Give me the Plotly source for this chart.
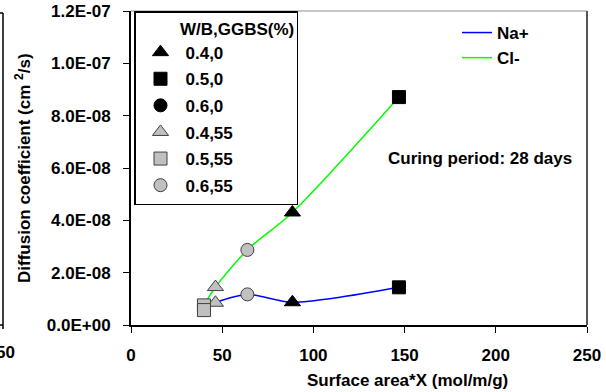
import plotly.graph_objects as go

FONT = "Liberation Sans, Arial, sans-serif"

# ---- data ----
groups = ["0.4,0", "0.5,0", "0.6,0", "0.4,55", "0.5,55", "0.6,55"]
group_x = {"0.4,0": 88.5, "0.5,0": 146.9, "0.6,0": None,
           "0.4,55": 46.3, "0.5,55": 40.0, "0.6,55": 63.8}
na_vals = {"0.4,0": 8.7e-9, "0.5,0": 1.44e-8, "0.6,0": None,
           "0.4,55": 8.5e-9, "0.5,55": 5.7e-9, "0.6,55": 1.17e-8}
cl_vals = {"0.4,0": 4.30e-8, "0.5,0": 8.71e-8, "0.6,0": None,
           "0.4,55": 1.45e-8, "0.5,55": 7.5e-9, "0.6,55": 2.87e-8}

line_order = ["0.5,55", "0.4,55", "0.6,55", "0.4,0", "0.5,0"]

y_tick_vals = [0, 2e-8, 4e-8, 6e-8, 8e-8, 1e-7, 1.2e-7]
y_tick_text = ["0.0E+00", "2.0E-08", "4.0E-08", "6.0E-08", "8.0E-08", "1.0E-07", "1.2E-07"]
x_tick_vals = [0, 50, 100, 150, 200, 250]

# ---- styles ----
sym = {"0.4,0": "triangle-up", "0.5,0": "square", "0.6,0": "circle",
       "0.4,55": "triangle-up", "0.5,55": "square", "0.6,55": "circle"}
fill = {"0.4,0": "black", "0.5,0": "black", "0.6,0": "black",
        "0.4,55": "#c0c0c0", "0.5,55": "#c0c0c0", "0.6,55": "#c0c0c0"}
edge = {"0.4,0": "black", "0.5,0": "black", "0.6,0": "black",
        "0.4,55": "#404040", "0.5,55": "#404040", "0.6,55": "#404040"}
msize = {"triangle-up": 14, "square": 13, "circle": 13}

fig = go.Figure()

# lines
fig.add_trace(go.Scatter(
    x=[group_x[g] for g in line_order], y=[na_vals[g] for g in line_order],
    mode="lines", line=dict(color="#0000ff", width=1.5, shape="spline", smoothing=0.8),
    name="Na+", legend="legend2"))
fig.add_trace(go.Scatter(
    x=[group_x[g] for g in line_order], y=[cl_vals[g] for g in line_order],
    mode="lines", line=dict(color="#00ff00", width=1.5, shape="spline", smoothing=0.8),
    name="Cl-", legend="legend2"))

# markers
for g in groups:
    xs = [group_x[g], group_x[g]]
    ys = [cl_vals[g], na_vals[g]]
    fig.add_trace(go.Scatter(
        x=xs, y=ys, mode="markers", name=g, legendgroup=g, legend="legend",
        marker=dict(symbol=sym[g], size=msize[sym[g]], color=fill[g],
                    line=dict(color=edge[g], width=1))))

W, H = 606, 392
L, R, T, B = 131, 19, 11, 67
pw, ph = W - L - R, H - T - B

def px_x(p):
    return (p - L) / pw

def px_y(p):
    return (H - B - p) / ph

shapes = [
    # top and right frame
    dict(type="line", xref="paper", yref="paper", x0=0, x1=1, y0=1, y1=1,
         line=dict(color="#909090", width=1)),
    dict(type="line", xref="paper", yref="paper", x0=1, x1=1, y0=0, y1=1,
         line=dict(color="#555555", width=2)),
    # left partial panel remnants
    dict(type="line", xref="paper", yref="paper", x0=px_x(3), x1=px_x(3),
         y0=px_y(13), y1=px_y(329), line=dict(color="black", width=1.5)),
    dict(type="line", xref="paper", yref="paper", x0=px_x(0), x1=px_x(3),
         y0=px_y(13), y1=px_y(13), line=dict(color="black", width=1.5)),
    dict(type="line", xref="paper", yref="paper", x0=px_x(0), x1=px_x(3),
         y0=px_y(325), y1=px_y(325), line=dict(color="black", width=1.5)),
]

bold = dict(family=FONT, size=17, color="black", weight="bold")

annotations = [
    dict(text="Curing period: 28 days", xref="paper", yref="paper",
         x=px_x(480), y=px_y(158), xanchor="center", yanchor="middle",
         showarrow=False, font=bold),
    dict(text="Surface area*X (mol/m/g)", xref="paper", yref="paper",
         x=px_x(407), y=px_y(380), xanchor="center", yanchor="middle",
         showarrow=False, font=bold),
    dict(text="Diffusion coefficient (cm <sup>2</sup>/s)", xref="paper", yref="paper",
         x=px_x(23), y=px_y(168), xanchor="center", yanchor="middle", textangle=-90,
         showarrow=False, font=bold),
    dict(text="50", xref="paper", yref="paper",
         x=px_x(17), y=px_y(352), xanchor="right", yanchor="middle",
         showarrow=False, font=bold),
]

fig.update_layout(
    width=W, height=H,
    margin=dict(l=L, r=R, t=T, b=B, autoexpand=False),
    paper_bgcolor="white", plot_bgcolor="white",
    font=bold,
    xaxis=dict(range=[0, 250], tickvals=x_tick_vals, showgrid=False, zeroline=False,
               showline=True, linecolor="black", linewidth=2,
               ticks="outside", ticklen=6, tickwidth=1, tickcolor="black",
               ticklabelstandoff=8, tickfont=bold),
    yaxis=dict(range=[0, 1.2e-7], tickvals=y_tick_vals, ticktext=y_tick_text,
               showgrid=False, zeroline=False,
               showline=True, linecolor="black", linewidth=2,
               ticks="outside", ticklen=6, tickwidth=1, tickcolor="black",
               ticklabelstandoff=9, tickfont=bold),
    legend=dict(x=px_x(134), y=px_y(11), xanchor="left", yanchor="top",
                bgcolor="white", bordercolor="black", borderwidth=1.5,
                font=bold, traceorder="grouped", tracegroupgap=1.5,
                title=dict(text="\u00a0" * 9 + "W/B,GGBS(%)", font=bold),
                itemwidth=40),
    legend2=dict(x=px_x(457), y=px_y(15), xanchor="left", yanchor="top",
                 bgcolor="rgba(0,0,0,0)", borderwidth=0, font=bold,
                 tracegroupgap=0),
    shapes=shapes, annotations=annotations,
    showlegend=True,
)

fig.write_html("out.html")
